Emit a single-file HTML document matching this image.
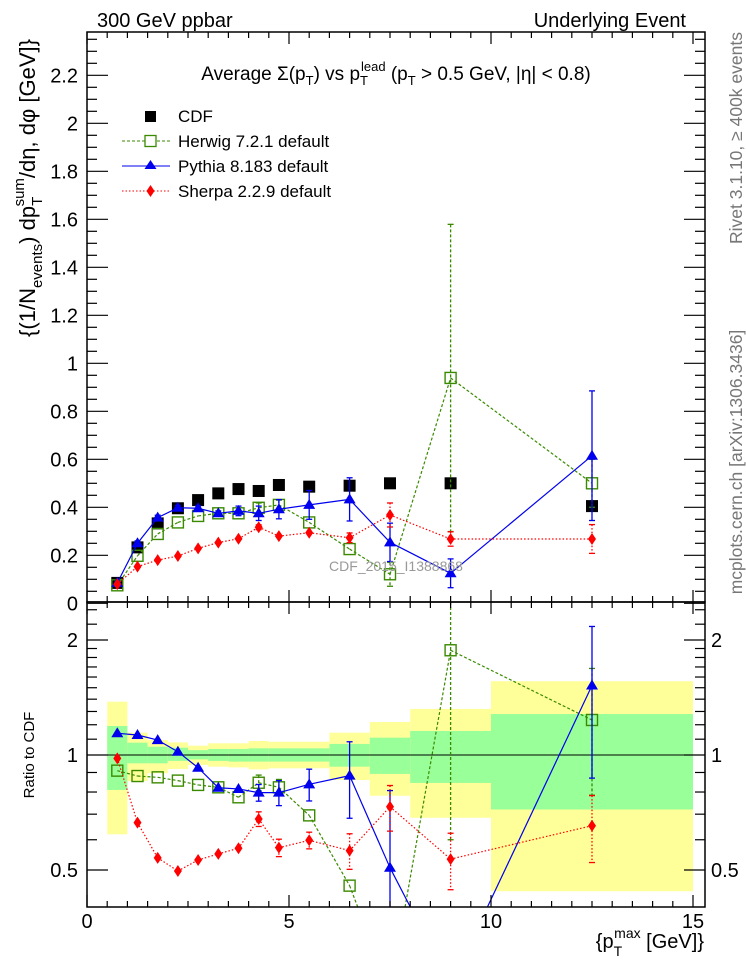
<!DOCTYPE html>
<html><head><meta charset="utf-8"><style>
html,body{margin:0;padding:0;background:#fff;overflow:hidden;width:746px;height:972px}
svg{display:block;font-family:"Liberation Sans",sans-serif}
</style></head><body>
<svg id="c" width="746" height="972" viewBox="0 0 746 972">
<g id="bands"></g>
<g id="marks"></g>
<g id="axes"></g>
<text x="97" y="27" font-size="20">300 GeV ppbar</text>
<text x="686" y="27" font-size="20" text-anchor="end">Underlying Event</text>
<text x="396" y="80" font-size="19" text-anchor="middle">Average Σ(p<tspan font-size="13" dy="5">T</tspan><tspan dy="-5">) vs p</tspan><tspan font-size="13" dy="5">T</tspan><tspan font-size="13" dy="-14" dx="-7">lead</tspan><tspan dy="9"> (p</tspan><tspan font-size="13" dy="5">T</tspan><tspan dy="-5"> &gt; 0.5 GeV, |η| &lt; 0.8)</tspan></text>
<text x="396" y="571" font-size="14" fill="#999" text-anchor="middle">CDF_2015_I1388868</text>
<g>
 <rect x="145" y="111" width="11" height="11" fill="#000"/>
 <text x="178" y="122" font-size="17">CDF</text>
 <line x1="122" y1="141" x2="170" y2="141" stroke="#3a8a00" stroke-dasharray="3,2"/>
 <rect x="145" y="135.5" width="11" height="11" fill="#fff" stroke="#3a8a00" stroke-width="1.3"/>
 <text x="178" y="147" font-size="17">Herwig 7.2.1 default</text>
 <line x1="122" y1="166" x2="170" y2="166" stroke="#0000ee"/>
 <path d="M150.5 160 L156.5 169 L144.5 169 Z" fill="#0000ee"/>
 <text x="178" y="172" font-size="17">Pythia 8.183 default</text>
 <line x1="122" y1="191" x2="170" y2="191" stroke="#ff0000" stroke-dasharray="1.5,2"/>
 <path d="M150.5 185 L154.5 191 L150.5 197 L146.5 191 Z" fill="#ff0000"/>
 <text x="178" y="197" font-size="17">Sherpa 2.2.9 default</text>
</g>
<text transform="translate(35,188) rotate(-90)" font-size="22" text-anchor="middle">{(1/N<tspan font-size="15" dy="7">events</tspan><tspan dy="-7">) dp</tspan><tspan font-size="15" dy="7">T</tspan><tspan font-size="15" dy="-18" dx="-8">sum</tspan><tspan dy="11">/dη, dφ [GeV]}</tspan></text>
<text transform="translate(34,755) rotate(-90)" font-size="15" text-anchor="middle">Ratio to CDF</text>
<text transform="translate(742,138) rotate(-90)" font-size="17.5" fill="#777" text-anchor="middle">Rivet 3.1.10, ≥ 400k events</text>
<text transform="translate(742,462) rotate(-90)" font-size="17.5" fill="#777" text-anchor="middle">mcplots.cern.ch [arXiv:1306.3436]</text>
<text x="704" y="948" font-size="20" text-anchor="end">{p<tspan font-size="14" dy="8">T</tspan><tspan font-size="14" dy="-18" dx="-8">max</tspan><tspan dy="10"> [GeV]}</tspan></text>
</svg>
<script>
const xs=[0.75,1.25,1.75,2.25,2.75,3.25,3.75,4.25,4.75,5.5,6.5,7.5,9,12.5];
const cdf=[0.085,0.233,0.333,0.396,0.43,0.458,0.476,0.468,0.493,0.486,0.49,0.50,0.50,0.405];
const herwig=[0.075,0.198,0.289,0.337,0.364,0.375,0.375,0.398,0.41,0.337,0.226,0.121,0.939,0.50];
const herwigErr=[0,0,0,0,0,0,0,0.02,0.02,0,0,0.05,0.64,0.1];
const pythia=[0.085,0.25,0.357,0.398,0.396,0.375,0.385,0.375,0.392,0.41,0.433,0.254,0.125,0.615];
const pythiaErr=[0,0.01,0.01,0.01,0.01,0.01,0.02,0.03,0.04,0.06,0.09,0.08,0.06,0.27];
const sherpa=[0.08,0.153,0.18,0.197,0.229,0.253,0.269,0.317,0.28,0.294,0.273,0.368,0.268,0.268];
const sherpaErr=[0,0,0,0,0,0,0,0.01,0,0,0.02,0.05,0.03,0.06];
const rHerwig=[0.91,0.881,0.874,0.857,0.835,0.823,0.775,0.846,0.823,0.695,0.455,0.24,1.88,1.235];
const rHerwigErr=[0,0,0,0,0,0,0,0.04,0.04,0,0,0,1.28,0.45];
const rPythia=[1.14,1.128,1.094,1.02,0.926,0.821,0.815,0.797,0.797,0.838,0.883,0.507,0.25,1.52];
const rPythiaErr=[0,0,0,0,0,0,0,0.04,0.06,0.08,0.2,0.3,0,0.65];
const rSherpa=[0.98,0.665,0.538,0.497,0.531,0.551,0.57,0.68,0.572,0.598,0.562,0.732,0.534,0.653];
const rSherpaErr=[0,0,0,0,0,0,0,0.03,0.03,0.03,0.06,0.1,0.09,0.13];
const binLo=[0.5,1,1.5,2,2.5,3,3.5,4,4.5,5,6,7,8,10];
const binHi=[1,1.5,2,2.5,3,3.5,4,4.5,5,6,7,8,10,15];
const yelHi=[1.379,1.144,1.094,1.079,1.058,1.073,1.073,1.088,1.083,1.083,1.144,1.22,1.32,1.56];
const grnHi=[1.191,1.077,1.051,1.045,1.03,1.037,1.037,1.041,1.041,1.041,1.069,1.11,1.156,1.28];
const grnLo=[0.81,0.951,0.951,0.965,0.974,0.965,0.961,0.961,0.961,0.961,0.932,0.892,0.845,0.72];
const yelLo=[0.62,0.855,0.896,0.919,0.942,0.932,0.928,0.917,0.923,0.923,0.86,0.782,0.685,0.44];
const yTicks=["0","0.2","0.4","0.6","0.8","1","1.2","1.4","1.6","1.8","2","2.2"];
const xTicks=["0","5","10","15"];
const rTicks=["0.5","1","2"];

const NS="http://www.w3.org/2000/svg";
const L=87,R=705,T1=32,B1=602,T2=602,B2=907;
const X=v=>L+v*40.4;
const Y=v=>603.3-v*240;
const YR=v=>755-Math.log2(v)*115;
function mk(p,tag,a){const e=document.createElementNS(NS,tag);for(const k in a)e.setAttribute(k,a[k]);p.appendChild(e);return e;}
function clip(x1,y1,x2,y2,top,bot){
 let t0=0,t1=1;const dx=x2-x1,dy=y2-y1;
 const P=[-dx,dx,-dy,dy],Q=[x1-L,R-x1,y1-top,bot-y1];
 for(let i=0;i<4;i++){
  if(P[i]===0){if(Q[i]<0)return null;continue;}
  const r=Q[i]/P[i];
  if(P[i]<0){if(r>t1)return null;if(r>t0)t0=r;}else{if(r<t0)return null;if(r<t1)t1=r;}
 }
 return [x1+t0*dx,y1+t0*dy,x1+t1*dx,y1+t1*dy];
}
const bands=document.getElementById('bands');
for(let i=0;i<binLo.length;i++){
 const yt=Math.max(YR(yelHi[i]),T2),yb=Math.min(YR(yelLo[i]),B2);
 const y=mk(bands,'rect',{x:X(binLo[i]),y:yt,width:X(binHi[i])-X(binLo[i]),height:yb-yt,fill:'#ffff99'});
 
 
 const g=mk(bands,'rect',{x:X(binLo[i]),y:YR(grnHi[i]),width:X(binHi[i])-X(binLo[i]),height:YR(grnLo[i])-YR(grnHi[i]),fill:'#99ff99'});
 
 
}
const marks=document.getElementById('marks');
mk(marks,'line',{x1:L,x2:R,y1:755,y2:755,stroke:'#000','stroke-width':1});
function series(vals,errs,yf,color,dash,shape,top,bot,name){
 const g=mk(marks,'g',{});
 
 
 const py=xs.map((x,i)=>yf(vals[i]));
 if(dash!==null){
  for(let i=0;i<xs.length-1;i++){
   const s=clip(X(xs[i]),py[i],X(xs[i+1]),py[i+1],top,bot);
   if(s)mk(g,'line',{x1:s[0],y1:s[1],x2:s[2],y2:s[3],stroke:color,'stroke-width':1.2,'stroke-dasharray':dash||'none'});
  }
 }
 xs.forEach((x,i)=>{
  const cx=X(x),cy=py[i];
  if(errs&&errs[i]>0){
   const lo=Math.max(vals[i]-errs[i],0.05),hi=vals[i]+errs[i];
   const yh=Math.max(yf(hi),top),yl=Math.min(yf(lo),bot);
   mk(g,'line',{x1:cx,x2:cx,y1:yh,y2:yl,stroke:color,'stroke-width':1.3,'stroke-dasharray':dash||'none'});
   if(yf(hi)>top)mk(g,'line',{x1:cx-3,x2:cx+3,y1:yh,y2:yh,stroke:color,'stroke-width':1.3});
   if(yf(lo)<bot)mk(g,'line',{x1:cx-3,x2:cx+3,y1:yl,y2:yl,stroke:color,'stroke-width':1.3});
  }
  if(cy<top||cy>bot)return;
  let m;
  if(shape==='sq')m=mk(g,'rect',{x:cx-6,y:cy-6,width:12,height:12,fill:'#000'});
  else if(shape==='osq')m=mk(g,'rect',{x:cx-5.5,y:cy-5.5,width:11,height:11,fill:'none',stroke:color,'stroke-width':1.4});
  else if(shape==='tri')m=mk(g,'path',{d:`M${cx} ${cy-6}L${cx+6} ${cy+4}L${cx-6} ${cy+4}Z`,fill:color});
  else m=mk(g,'path',{d:`M${cx} ${cy-6}L${cx+4} ${cy}L${cx} ${cy+6}L${cx-4} ${cy}Z`,fill:color});
  
  
 });
}
series(cdf,null,Y,'#000',null,'sq',T1,B1,'cdf-series');
series(herwig,herwigErr,Y,'#3a8a00','3,2','osq',T1,B1,'herwig-series');
series(pythia,pythiaErr,Y,'#0000ee','','tri',T1,B1,'pythia-series');
series(sherpa,sherpaErr,Y,'#ff0000','1.5,2','dia',T1,B1,'sherpa-series');
series(rHerwig,rHerwigErr,YR,'#3a8a00','3,2','osq',T2,B2,'herwig-ratio');
series(rPythia,rPythiaErr,YR,'#0000ee','','tri',T2,B2,'pythia-ratio');
series(rSherpa,rSherpaErr,YR,'#ff0000','1.5,2','dia',T2,B2,'sherpa-ratio');

const ax=document.getElementById('axes');
mk(ax,'rect',{x:L,y:T1,width:R-L,height:B1-T1,fill:'none',stroke:'#000','stroke-width':1.5});
mk(ax,'rect',{x:L,y:T2,width:R-L,height:B2-T2,fill:'none',stroke:'#000','stroke-width':1.5});
function ln(x1,y1,x2,y2){mk(ax,'line',{x1,y1,x2,y2,stroke:'#000','stroke-width':1.2});}
for(let v=0;v<=15.2;v+=0.5){
 const x=X(v),maj=Math.abs(v%5)<1e-6,len=maj?12:6;
 ln(x,B1,x,B1-len);ln(x,T1,x,T1+len);ln(x,T2,x,T2+len);ln(x,B2,x,B2-len);
}
xTicks.forEach(t=>{const e=mk(ax,'text',{x:X(+t),y:928,'font-size':20,'text-anchor':'middle'});e.textContent=t;
 
 });
for(let v=0;v<=2.36;v+=0.05){
 const y=Y(v);if(y<T1)break;const maj=Math.round(v*100)%20===0,len=maj?21:10;
 ln(L,y,L+len,y);ln(R,y,R-len,y);
}
yTicks.forEach(t=>{const e=mk(ax,'text',{x:78,y:Y(+t)+7,'font-size':20,'text-anchor':'end'});e.textContent=t;
 
 });
[0.4,0.5,0.6,0.7,0.8,0.9,1,1.1,1.2,1.3,1.4,1.5,1.6,1.7,1.8,1.9,2,2.2,2.4].forEach(v=>{
 const y=YR(v);if(y<T2||y>B2)return;const maj=(v===0.5||v===1||v===2),len=maj?21:10;
 ln(L,y,L+len,y);ln(R,y,R-len,y);
});
rTicks.forEach(t=>{
 const e=mk(ax,'text',{x:78,y:YR(+t)+7,'font-size':20,'text-anchor':'end'});e.textContent=t;
 
 
 const f=mk(ax,'text',{x:711,y:YR(+t)+7,'font-size':20});f.textContent=t;
 
 
});
</script>
</body></html>
